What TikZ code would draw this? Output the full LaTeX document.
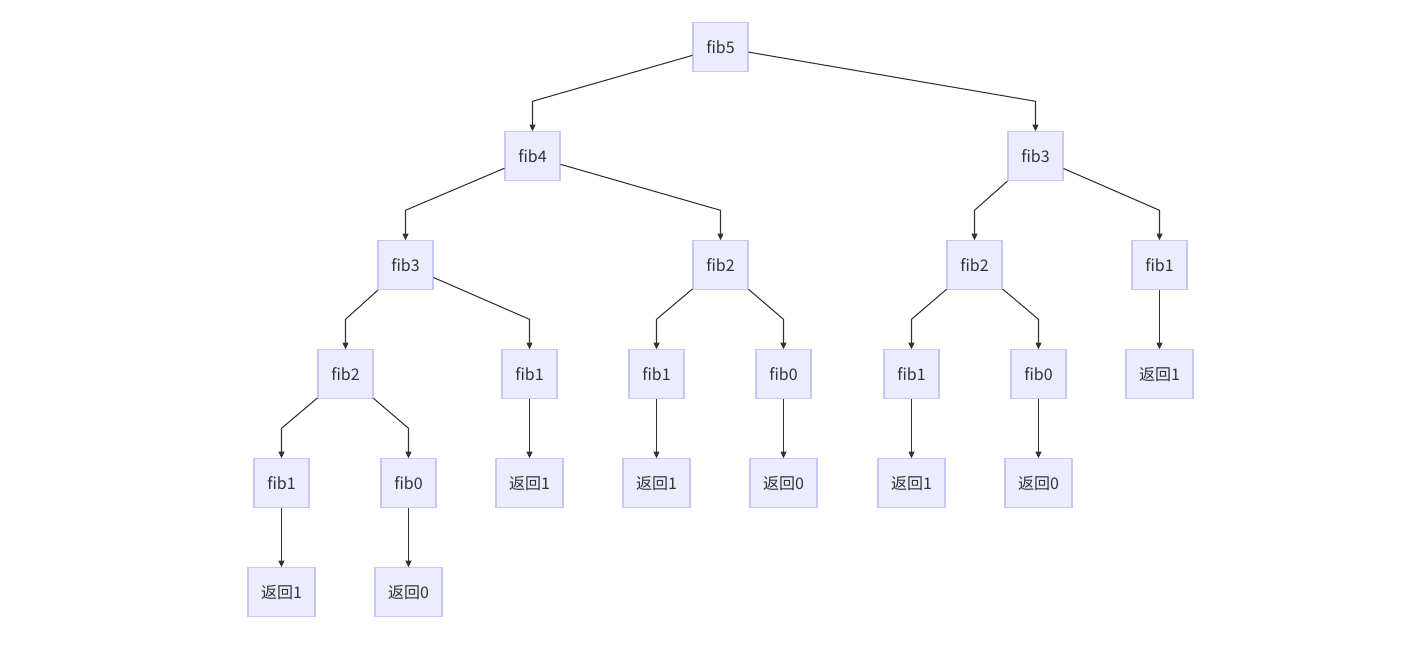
\documentclass[tikz,border=0pt]{standalone}
\usepackage{fontspec}
\newfontfamily\cjk{Noto Sans CJK SC}
\usepackage{tikz}
\usetikzlibrary{positioning,calc,arrows.meta}
\definecolor{boxfill}{HTML}{ECECFF}
\definecolor{boxline}{HTML}{C8C8F8}
\definecolor{inkgray}{HTML}{333333}
\tikzset{
    fibbox/.style={
           rectangle,
           draw=boxline, fill=boxfill,
           line width=0.8pt,
           minimum width=41.25pt,
           minimum height=36.75pt,
           inner sep=2pt,
           text=inkgray,
           font=\cjk\fontsize{12pt}{14pt}\selectfont,
           text centered,
           },
    retbox/.style={
           fibbox,
           minimum width=50.25pt,
           },
    edge/.style={
           draw=inkgray,
           line width=0.8pt,
           -{Triangle[length=5pt,width=4.5pt]},
           },
}
% edge: leave the parent, bend above the child, go straight down
\newcommand\fibedge[2]{\draw[edge] (#1) -- ([yshift=22.5pt]#2.north) -- (#2.north);}

\begin{document}
\begin{tikzpicture}[node distance=81.75pt]

 \useasboundingbox (-540.375pt,35.5pt) rectangle (524.625pt,-455.75pt);

 % ROOT
 \node[fibbox] (FIBFIVE) {fib5};

 % LEVEL 1
 \node[fibbox, below of=FIBFIVE, xshift=-141pt] (FIBFOUR) {fib4};
 \node[fibbox, below of=FIBFIVE, xshift=236.25pt] (FIBTHREER) {fib3};

 % LEVEL 2
 \node[fibbox, below of=FIBFOUR, xshift=-95.25pt] (FIBTHREEL) {fib3};
 \node[fibbox, below of=FIBFOUR, xshift=141pt] (FIBTWOM) {fib2};
 \node[fibbox, below of=FIBTHREER, xshift=-45.75pt] (FIBTWOR) {fib2};
 \node[fibbox, below of=FIBTHREER, xshift=93pt] (FIBONER) {fib1};

 % LEVEL 3
 \node[fibbox, below of=FIBTHREEL, xshift=-45pt] (FIBTWOL) {fib2};
 \node[fibbox, below of=FIBTHREEL, xshift=93pt] (FIBONEA) {fib1};
 \node[fibbox, below of=FIBTWOM, xshift=-48pt] (FIBONEB) {fib1};
 \node[fibbox, below of=FIBTWOM, xshift=47.25pt] (FIBZEROA) {fib0};
 \node[fibbox, below of=FIBTWOR, xshift=-47.25pt] (FIBONEC) {fib1};
 \node[fibbox, below of=FIBTWOR, xshift=48pt] (FIBZEROB) {fib0};
 \node[retbox, below of=FIBONER] (RETONER) {返回1};

 % LEVEL 4
 \node[fibbox, below of=FIBTWOL, xshift=-48pt] (FIBONED) {fib1};
 \node[fibbox, below of=FIBTWOL, xshift=47.25pt] (FIBZEROC) {fib0};
 \node[retbox, below of=FIBONEA] (RETONEA) {返回1};
 \node[retbox, below of=FIBONEB] (RETONEB) {返回1};
 \node[retbox, below of=FIBZEROA] (RETZEROA) {返回0};
 \node[retbox, below of=FIBONEC] (RETONEC) {返回1};
 \node[retbox, below of=FIBZEROB] (RETZEROB) {返回0};

 % LEVEL 5
 \node[retbox, below of=FIBONED] (RETONED) {返回1};
 \node[retbox, below of=FIBZEROC] (RETZEROC) {返回0};

 % the calls
 \fibedge{FIBFIVE}{FIBFOUR}
 \fibedge{FIBFIVE}{FIBTHREER}
 \fibedge{FIBFOUR}{FIBTHREEL}
 \fibedge{FIBFOUR}{FIBTWOM}
 \fibedge{FIBTHREER}{FIBTWOR}
 \fibedge{FIBTHREER}{FIBONER}
 \fibedge{FIBTHREEL}{FIBTWOL}
 \fibedge{FIBTHREEL}{FIBONEA}
 \fibedge{FIBTWOM}{FIBONEB}
 \fibedge{FIBTWOM}{FIBZEROA}
 \fibedge{FIBTWOR}{FIBONEC}
 \fibedge{FIBTWOR}{FIBZEROB}
 \fibedge{FIBONER}{RETONER}
 \fibedge{FIBTWOL}{FIBONED}
 \fibedge{FIBTWOL}{FIBZEROC}
 \fibedge{FIBONEA}{RETONEA}
 \fibedge{FIBONEB}{RETONEB}
 \fibedge{FIBZEROA}{RETZEROA}
 \fibedge{FIBONEC}{RETONEC}
 \fibedge{FIBZEROB}{RETZEROB}
 \fibedge{FIBONED}{RETONED}
 \fibedge{FIBZEROC}{RETZEROC}
\end{tikzpicture}
\end{document}
